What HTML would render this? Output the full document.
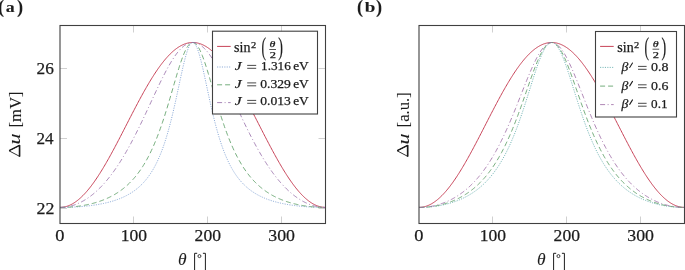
<!DOCTYPE html>
<html><head><meta charset="utf-8"><title>plot</title><style>
html,body{margin:0;padding:0;background:#fff;overflow:hidden;}
svg{display:block;will-change:transform;}
text{font-family:"Liberation Serif",serif;fill:#1c1c1c;stroke:#1c1c1c;stroke-width:0.25px;}
text.ns{stroke-width:0.08px;}
</style></head>
<body><svg width="685" height="270" viewBox="0 0 685 270">
<rect width="685" height="270" fill="#fff"/>
<line x1="133.5" y1="223.5" x2="133.5" y2="216.5" stroke="#d0d0d0" stroke-width="1"/>
<line x1="133.5" y1="25.5" x2="133.5" y2="32.5" stroke="#d0d0d0" stroke-width="1"/>
<line x1="207.5" y1="223.5" x2="207.5" y2="216.5" stroke="#d0d0d0" stroke-width="1"/>
<line x1="207.5" y1="25.5" x2="207.5" y2="32.5" stroke="#d0d0d0" stroke-width="1"/>
<line x1="281.5" y1="223.5" x2="281.5" y2="216.5" stroke="#d0d0d0" stroke-width="1"/>
<line x1="281.5" y1="25.5" x2="281.5" y2="32.5" stroke="#d0d0d0" stroke-width="1"/>
<line x1="60.0" y1="68.5" x2="67.0" y2="68.5" stroke="#d0d0d0" stroke-width="1"/>
<line x1="325.5" y1="68.5" x2="318.5" y2="68.5" stroke="#d0d0d0" stroke-width="1"/>
<line x1="60.0" y1="138.5" x2="67.0" y2="138.5" stroke="#d0d0d0" stroke-width="1"/>
<line x1="325.5" y1="138.5" x2="318.5" y2="138.5" stroke="#d0d0d0" stroke-width="1"/>
<line x1="60.0" y1="208.5" x2="67.0" y2="208.5" stroke="#d0d0d0" stroke-width="1"/>
<line x1="325.5" y1="208.5" x2="318.5" y2="208.5" stroke="#d0d0d0" stroke-width="1"/>
<path d="M60.00,207.40 L60.74,207.39 L61.48,207.35 L62.21,207.29 L62.95,207.20 L63.69,207.09 L64.42,206.95 L65.16,206.79 L65.90,206.60 L66.64,206.38 L67.38,206.15 L68.11,205.89 L68.85,205.60 L69.59,205.29 L70.33,204.95 L71.06,204.59 L71.80,204.21 L72.54,203.80 L73.28,203.36 L74.01,202.91 L74.75,202.43 L75.49,201.92 L76.22,201.40 L76.96,200.85 L77.70,200.27 L78.44,199.68 L79.17,199.06 L79.91,198.41 L80.65,197.75 L81.39,197.06 L82.12,196.35 L82.86,195.62 L83.60,194.87 L84.34,194.10 L85.08,193.30 L85.81,192.49 L86.55,191.65 L87.29,190.80 L88.03,189.92 L88.76,189.03 L89.50,188.11 L90.24,187.18 L90.97,186.22 L91.71,185.25 L92.45,184.26 L93.19,183.25 L93.93,182.22 L94.66,181.18 L95.40,180.12 L96.14,179.04 L96.88,177.95 L97.61,176.84 L98.35,175.71 L99.09,174.57 L99.83,173.41 L100.56,172.24 L101.30,171.06 L102.04,169.86 L102.78,168.64 L103.51,167.41 L104.25,166.18 L104.99,164.92 L105.72,163.66 L106.46,162.38 L107.20,161.09 L107.94,159.79 L108.68,158.49 L109.41,157.17 L110.15,155.84 L110.89,154.50 L111.62,153.15 L112.36,151.79 L113.10,150.43 L113.84,149.06 L114.58,147.68 L115.31,146.29 L116.05,144.90 L116.79,143.50 L117.53,142.09 L118.26,140.68 L119.00,139.27 L119.74,137.85 L120.47,136.42 L121.21,135.00 L121.95,133.57 L122.69,132.14 L123.43,130.70 L124.16,129.27 L124.90,127.83 L125.64,126.39 L126.38,124.95 L127.11,123.51 L127.85,122.07 L128.59,120.63 L129.32,119.20 L130.06,117.76 L130.80,116.33 L131.54,114.90 L132.28,113.48 L133.01,112.05 L133.75,110.63 L134.49,109.22 L135.23,107.81 L135.96,106.40 L136.70,105.00 L137.44,103.61 L138.18,102.22 L138.91,100.84 L139.65,99.47 L140.39,98.11 L141.12,96.75 L141.86,95.40 L142.60,94.06 L143.34,92.73 L144.07,91.41 L144.81,90.11 L145.55,88.81 L146.29,87.52 L147.03,86.24 L147.76,84.98 L148.50,83.73 L149.24,82.49 L149.98,81.26 L150.71,80.04 L151.45,78.84 L152.19,77.66 L152.93,76.49 L153.66,75.33 L154.40,74.19 L155.14,73.06 L155.88,71.95 L156.61,70.86 L157.35,69.78 L158.09,68.72 L158.82,67.68 L159.56,66.65 L160.30,65.64 L161.04,64.65 L161.78,63.68 L162.51,62.72 L163.25,61.79 L163.99,60.87 L164.73,59.98 L165.46,59.10 L166.20,58.25 L166.94,57.41 L167.68,56.60 L168.41,55.80 L169.15,55.03 L169.89,54.28 L170.62,53.55 L171.36,52.84 L172.10,52.15 L172.84,51.49 L173.57,50.84 L174.31,50.22 L175.05,49.63 L175.79,49.05 L176.53,48.50 L177.26,47.98 L178.00,47.47 L178.74,46.99 L179.48,46.54 L180.21,46.10 L180.95,45.69 L181.69,45.31 L182.43,44.95 L183.16,44.61 L183.90,44.30 L184.64,44.01 L185.38,43.75 L186.11,43.52 L186.85,43.30 L187.59,43.11 L188.33,42.95 L189.06,42.81 L189.80,42.70 L190.54,42.61 L191.28,42.55 L192.01,42.51 L192.75,42.50 L193.49,42.51 L194.22,42.55 L194.96,42.61 L195.70,42.70 L196.44,42.81 L197.18,42.95 L197.91,43.11 L198.65,43.30 L199.39,43.52 L200.12,43.75 L200.86,44.01 L201.60,44.30 L202.34,44.61 L203.08,44.95 L203.81,45.31 L204.55,45.69 L205.29,46.10 L206.03,46.54 L206.76,46.99 L207.50,47.47 L208.24,47.98 L208.98,48.50 L209.71,49.05 L210.45,49.63 L211.19,50.22 L211.93,50.84 L212.66,51.49 L213.40,52.15 L214.14,52.84 L214.88,53.55 L215.61,54.28 L216.35,55.03 L217.09,55.80 L217.83,56.60 L218.56,57.41 L219.30,58.25 L220.04,59.10 L220.78,59.98 L221.51,60.87 L222.25,61.79 L222.99,62.72 L223.73,63.68 L224.46,64.65 L225.20,65.64 L225.94,66.65 L226.68,67.68 L227.41,68.72 L228.15,69.78 L228.89,70.86 L229.62,71.95 L230.36,73.06 L231.10,74.19 L231.84,75.33 L232.58,76.49 L233.31,77.66 L234.05,78.84 L234.79,80.04 L235.53,81.26 L236.26,82.49 L237.00,83.72 L237.74,84.98 L238.48,86.24 L239.21,87.52 L239.95,88.81 L240.69,90.11 L241.43,91.41 L242.16,92.73 L242.90,94.06 L243.64,95.40 L244.38,96.75 L245.11,98.11 L245.85,99.47 L246.59,100.84 L247.33,102.22 L248.06,103.61 L248.80,105.00 L249.54,106.40 L250.28,107.81 L251.01,109.22 L251.75,110.63 L252.49,112.05 L253.23,113.48 L253.96,114.90 L254.70,116.33 L255.44,117.76 L256.18,119.20 L256.91,120.63 L257.65,122.07 L258.39,123.51 L259.12,124.95 L259.86,126.39 L260.60,127.83 L261.34,129.27 L262.08,130.70 L262.81,132.14 L263.55,133.57 L264.29,135.00 L265.02,136.42 L265.76,137.85 L266.50,139.27 L267.24,140.68 L267.98,142.09 L268.71,143.50 L269.45,144.90 L270.19,146.29 L270.93,147.68 L271.66,149.06 L272.40,150.43 L273.14,151.79 L273.88,153.15 L274.61,154.50 L275.35,155.84 L276.09,157.17 L276.83,158.49 L277.56,159.79 L278.30,161.09 L279.04,162.38 L279.77,163.66 L280.51,164.92 L281.25,166.18 L281.99,167.41 L282.73,168.64 L283.46,169.86 L284.20,171.06 L284.94,172.24 L285.68,173.41 L286.41,174.57 L287.15,175.71 L287.89,176.84 L288.62,177.95 L289.36,179.04 L290.10,180.12 L290.84,181.18 L291.58,182.22 L292.31,183.25 L293.05,184.26 L293.79,185.25 L294.52,186.22 L295.26,187.18 L296.00,188.11 L296.74,189.03 L297.48,189.92 L298.21,190.80 L298.95,191.65 L299.69,192.49 L300.43,193.30 L301.16,194.10 L301.90,194.87 L302.64,195.62 L303.38,196.35 L304.11,197.06 L304.85,197.75 L305.59,198.41 L306.33,199.06 L307.06,199.68 L307.80,200.27 L308.54,200.85 L309.27,201.40 L310.01,201.92 L310.75,202.43 L311.49,202.91 L312.23,203.36 L312.96,203.80 L313.70,204.21 L314.44,204.59 L315.18,204.95 L315.91,205.29 L316.65,205.60 L317.39,205.89 L318.12,206.15 L318.86,206.38 L319.60,206.60 L320.34,206.79 L321.07,206.95 L321.81,207.09 L322.55,207.20 L323.29,207.29 L324.03,207.35 L324.76,207.39 L325.50,207.40" fill="none" stroke="#c84257" stroke-width="1.0"/>
<path d="M60.00,207.40 L60.74,207.40 L61.48,207.40 L62.21,207.39 L62.95,207.38 L63.69,207.38 L64.42,207.37 L65.16,207.35 L65.90,207.34 L66.64,207.32 L67.38,207.30 L68.11,207.28 L68.85,207.26 L69.59,207.24 L70.33,207.21 L71.06,207.18 L71.80,207.15 L72.54,207.12 L73.28,207.08 L74.01,207.05 L74.75,207.01 L75.49,206.97 L76.22,206.92 L76.96,206.88 L77.70,206.83 L78.44,206.78 L79.17,206.73 L79.91,206.67 L80.65,206.62 L81.39,206.56 L82.12,206.49 L82.86,206.43 L83.60,206.36 L84.34,206.29 L85.08,206.22 L85.81,206.15 L86.55,206.07 L87.29,205.99 L88.03,205.91 L88.76,205.82 L89.50,205.74 L90.24,205.65 L90.97,205.55 L91.71,205.46 L92.45,205.36 L93.19,205.25 L93.93,205.15 L94.66,205.04 L95.40,204.92 L96.14,204.81 L96.88,204.69 L97.61,204.56 L98.35,204.44 L99.09,204.31 L99.83,204.17 L100.56,204.03 L101.30,203.89 L102.04,203.74 L102.78,203.59 L103.51,203.44 L104.25,203.28 L104.99,203.11 L105.72,202.94 L106.46,202.77 L107.20,202.59 L107.94,202.41 L108.68,202.22 L109.41,202.02 L110.15,201.82 L110.89,201.62 L111.62,201.41 L112.36,201.19 L113.10,200.97 L113.84,200.74 L114.58,200.50 L115.31,200.26 L116.05,200.00 L116.79,199.75 L117.53,199.48 L118.26,199.21 L119.00,198.93 L119.74,198.64 L120.47,198.34 L121.21,198.04 L121.95,197.72 L122.69,197.40 L123.43,197.06 L124.16,196.72 L124.90,196.36 L125.64,196.00 L126.38,195.62 L127.11,195.23 L127.85,194.83 L128.59,194.42 L129.32,194.00 L130.06,193.56 L130.80,193.11 L131.54,192.64 L132.28,192.16 L133.01,191.67 L133.75,191.16 L134.49,190.63 L135.23,190.09 L135.96,189.53 L136.70,188.95 L137.44,188.35 L138.18,187.73 L138.91,187.09 L139.65,186.43 L140.39,185.74 L141.12,185.04 L141.86,184.31 L142.60,183.55 L143.34,182.77 L144.07,181.96 L144.81,181.13 L145.55,180.26 L146.29,179.36 L147.03,178.44 L147.76,177.48 L148.50,176.48 L149.24,175.45 L149.98,174.38 L150.71,173.28 L151.45,172.13 L152.19,170.94 L152.93,169.71 L153.66,168.43 L154.40,167.11 L155.14,165.73 L155.88,164.31 L156.61,162.83 L157.35,161.30 L158.09,159.71 L158.82,158.06 L159.56,156.35 L160.30,154.58 L161.04,152.75 L161.78,150.84 L162.51,148.87 L163.25,146.82 L163.99,144.71 L164.73,142.51 L165.46,140.24 L166.20,137.89 L166.94,135.47 L167.68,132.96 L168.41,130.37 L169.15,127.70 L169.89,124.94 L170.62,122.11 L171.36,119.19 L172.10,116.20 L172.84,113.13 L173.57,109.99 L174.31,106.79 L175.05,103.52 L175.79,100.19 L176.53,96.82 L177.26,93.41 L178.00,89.97 L178.74,86.51 L179.48,83.05 L180.21,79.61 L180.95,76.19 L181.69,72.82 L182.43,69.52 L183.16,66.31 L183.90,63.21 L184.64,60.24 L185.38,57.42 L186.11,54.79 L186.85,52.36 L187.59,50.15 L188.33,48.18 L189.06,46.49 L189.80,45.07 L190.54,43.96 L191.28,43.15 L192.01,42.66 L192.75,42.50 L193.49,42.66 L194.22,43.15 L194.96,43.96 L195.70,45.07 L196.44,46.49 L197.18,48.18 L197.91,50.15 L198.65,52.36 L199.39,54.79 L200.12,57.42 L200.86,60.24 L201.60,63.21 L202.34,66.31 L203.08,69.52 L203.81,72.82 L204.55,76.19 L205.29,79.61 L206.03,83.05 L206.76,86.51 L207.50,89.97 L208.24,93.41 L208.98,96.82 L209.71,100.19 L210.45,103.52 L211.19,106.79 L211.93,109.99 L212.66,113.13 L213.40,116.20 L214.14,119.19 L214.88,122.11 L215.61,124.94 L216.35,127.70 L217.09,130.37 L217.83,132.96 L218.56,135.47 L219.30,137.89 L220.04,140.24 L220.78,142.51 L221.51,144.71 L222.25,146.82 L222.99,148.87 L223.73,150.84 L224.46,152.75 L225.20,154.58 L225.94,156.35 L226.68,158.06 L227.41,159.71 L228.15,161.30 L228.89,162.83 L229.62,164.31 L230.36,165.73 L231.10,167.11 L231.84,168.43 L232.58,169.71 L233.31,170.94 L234.05,172.13 L234.79,173.28 L235.53,174.38 L236.26,175.45 L237.00,176.48 L237.74,177.48 L238.48,178.44 L239.21,179.36 L239.95,180.26 L240.69,181.13 L241.43,181.96 L242.16,182.77 L242.90,183.55 L243.64,184.31 L244.38,185.04 L245.11,185.74 L245.85,186.43 L246.59,187.09 L247.33,187.73 L248.06,188.35 L248.80,188.95 L249.54,189.53 L250.28,190.09 L251.01,190.63 L251.75,191.16 L252.49,191.67 L253.23,192.16 L253.96,192.64 L254.70,193.11 L255.44,193.56 L256.18,194.00 L256.91,194.42 L257.65,194.83 L258.39,195.23 L259.12,195.62 L259.86,196.00 L260.60,196.36 L261.34,196.72 L262.08,197.06 L262.81,197.40 L263.55,197.72 L264.29,198.04 L265.02,198.34 L265.76,198.64 L266.50,198.93 L267.24,199.21 L267.98,199.48 L268.71,199.75 L269.45,200.00 L270.19,200.26 L270.93,200.50 L271.66,200.74 L272.40,200.97 L273.14,201.19 L273.88,201.41 L274.61,201.62 L275.35,201.82 L276.09,202.02 L276.83,202.22 L277.56,202.41 L278.30,202.59 L279.04,202.77 L279.77,202.94 L280.51,203.11 L281.25,203.28 L281.99,203.44 L282.73,203.59 L283.46,203.74 L284.20,203.89 L284.94,204.03 L285.68,204.17 L286.41,204.31 L287.15,204.44 L287.89,204.56 L288.62,204.69 L289.36,204.81 L290.10,204.92 L290.84,205.04 L291.58,205.15 L292.31,205.25 L293.05,205.36 L293.79,205.46 L294.52,205.55 L295.26,205.65 L296.00,205.74 L296.74,205.82 L297.48,205.91 L298.21,205.99 L298.95,206.07 L299.69,206.15 L300.43,206.22 L301.16,206.29 L301.90,206.36 L302.64,206.43 L303.38,206.49 L304.11,206.56 L304.85,206.62 L305.59,206.67 L306.33,206.73 L307.06,206.78 L307.80,206.83 L308.54,206.88 L309.27,206.92 L310.01,206.97 L310.75,207.01 L311.49,207.05 L312.23,207.08 L312.96,207.12 L313.70,207.15 L314.44,207.18 L315.18,207.21 L315.91,207.24 L316.65,207.26 L317.39,207.28 L318.12,207.30 L318.86,207.32 L319.60,207.34 L320.34,207.35 L321.07,207.37 L321.81,207.38 L322.55,207.38 L323.29,207.39 L324.03,207.40 L324.76,207.40 L325.50,207.40" fill="none" stroke="#789cd0" stroke-width="0.85" stroke-dasharray="1.1 1.3"/>
<path d="M60.00,207.40 L60.74,207.40 L61.48,207.39 L62.21,207.38 L62.95,207.37 L63.69,207.35 L64.42,207.33 L65.16,207.31 L65.90,207.28 L66.64,207.25 L67.38,207.21 L68.11,207.17 L68.85,207.13 L69.59,207.08 L70.33,207.03 L71.06,206.97 L71.80,206.92 L72.54,206.85 L73.28,206.78 L74.01,206.71 L74.75,206.64 L75.49,206.56 L76.22,206.48 L76.96,206.39 L77.70,206.30 L78.44,206.20 L79.17,206.10 L79.91,205.99 L80.65,205.88 L81.39,205.77 L82.12,205.65 L82.86,205.53 L83.60,205.40 L84.34,205.27 L85.08,205.13 L85.81,204.99 L86.55,204.84 L87.29,204.69 L88.03,204.53 L88.76,204.37 L89.50,204.20 L90.24,204.03 L90.97,203.85 L91.71,203.67 L92.45,203.48 L93.19,203.28 L93.93,203.08 L94.66,202.87 L95.40,202.66 L96.14,202.44 L96.88,202.22 L97.61,201.98 L98.35,201.75 L99.09,201.50 L99.83,201.25 L100.56,200.99 L101.30,200.72 L102.04,200.45 L102.78,200.17 L103.51,199.88 L104.25,199.58 L104.99,199.28 L105.72,198.97 L106.46,198.65 L107.20,198.32 L107.94,197.98 L108.68,197.64 L109.41,197.28 L110.15,196.91 L110.89,196.54 L111.62,196.16 L112.36,195.76 L113.10,195.36 L113.84,194.94 L114.58,194.52 L115.31,194.08 L116.05,193.63 L116.79,193.17 L117.53,192.70 L118.26,192.22 L119.00,191.72 L119.74,191.21 L120.47,190.69 L121.21,190.15 L121.95,189.60 L122.69,189.04 L123.43,188.46 L124.16,187.86 L124.90,187.25 L125.64,186.63 L126.38,185.98 L127.11,185.33 L127.85,184.65 L128.59,183.96 L129.32,183.24 L130.06,182.51 L130.80,181.76 L131.54,180.99 L132.28,180.20 L133.01,179.39 L133.75,178.56 L134.49,177.70 L135.23,176.83 L135.96,175.93 L136.70,175.00 L137.44,174.05 L138.18,173.08 L138.91,172.08 L139.65,171.05 L140.39,170.00 L141.12,168.92 L141.86,167.81 L142.60,166.67 L143.34,165.50 L144.07,164.30 L144.81,163.06 L145.55,161.80 L146.29,160.50 L147.03,159.17 L147.76,157.80 L148.50,156.40 L149.24,154.96 L149.98,153.49 L150.71,151.97 L151.45,150.42 L152.19,148.83 L152.93,147.20 L153.66,145.54 L154.40,143.83 L155.14,142.07 L155.88,140.28 L156.61,138.45 L157.35,136.57 L158.09,134.65 L158.82,132.69 L159.56,130.69 L160.30,128.64 L161.04,126.55 L161.78,124.42 L162.51,122.25 L163.25,120.04 L163.99,117.79 L164.73,115.50 L165.46,113.18 L166.20,110.82 L166.94,108.42 L167.68,106.00 L168.41,103.55 L169.15,101.07 L169.89,98.58 L170.62,96.06 L171.36,93.53 L172.10,90.99 L172.84,88.44 L173.57,85.89 L174.31,83.35 L175.05,80.82 L175.79,78.30 L176.53,75.81 L177.26,73.35 L178.00,70.93 L178.74,68.55 L179.48,66.23 L180.21,63.96 L180.95,61.77 L181.69,59.66 L182.43,57.63 L183.16,55.69 L183.90,53.86 L184.64,52.14 L185.38,50.54 L186.11,49.07 L186.85,47.73 L187.59,46.53 L188.33,45.48 L189.06,44.58 L189.80,43.84 L190.54,43.25 L191.28,42.84 L192.01,42.58 L192.75,42.50 L193.49,42.58 L194.22,42.84 L194.96,43.25 L195.70,43.84 L196.44,44.58 L197.18,45.48 L197.91,46.53 L198.65,47.73 L199.39,49.07 L200.12,50.54 L200.86,52.14 L201.60,53.86 L202.34,55.69 L203.08,57.63 L203.81,59.66 L204.55,61.77 L205.29,63.96 L206.03,66.23 L206.76,68.55 L207.50,70.93 L208.24,73.35 L208.98,75.81 L209.71,78.30 L210.45,80.82 L211.19,83.35 L211.93,85.89 L212.66,88.44 L213.40,90.99 L214.14,93.53 L214.88,96.06 L215.61,98.58 L216.35,101.07 L217.09,103.55 L217.83,106.00 L218.56,108.42 L219.30,110.82 L220.04,113.18 L220.78,115.50 L221.51,117.79 L222.25,120.04 L222.99,122.25 L223.73,124.42 L224.46,126.55 L225.20,128.64 L225.94,130.69 L226.68,132.69 L227.41,134.65 L228.15,136.57 L228.89,138.45 L229.62,140.28 L230.36,142.07 L231.10,143.83 L231.84,145.54 L232.58,147.20 L233.31,148.83 L234.05,150.42 L234.79,151.97 L235.53,153.49 L236.26,154.96 L237.00,156.40 L237.74,157.80 L238.48,159.17 L239.21,160.50 L239.95,161.80 L240.69,163.06 L241.43,164.30 L242.16,165.50 L242.90,166.67 L243.64,167.81 L244.38,168.92 L245.11,170.00 L245.85,171.05 L246.59,172.08 L247.33,173.08 L248.06,174.05 L248.80,175.00 L249.54,175.93 L250.28,176.83 L251.01,177.70 L251.75,178.56 L252.49,179.39 L253.23,180.20 L253.96,180.99 L254.70,181.76 L255.44,182.51 L256.18,183.24 L256.91,183.96 L257.65,184.65 L258.39,185.33 L259.12,185.98 L259.86,186.63 L260.60,187.25 L261.34,187.86 L262.08,188.46 L262.81,189.04 L263.55,189.60 L264.29,190.15 L265.02,190.69 L265.76,191.21 L266.50,191.72 L267.24,192.22 L267.98,192.70 L268.71,193.17 L269.45,193.63 L270.19,194.08 L270.93,194.52 L271.66,194.94 L272.40,195.36 L273.14,195.76 L273.88,196.16 L274.61,196.54 L275.35,196.91 L276.09,197.28 L276.83,197.64 L277.56,197.98 L278.30,198.32 L279.04,198.65 L279.77,198.97 L280.51,199.28 L281.25,199.58 L281.99,199.88 L282.73,200.17 L283.46,200.45 L284.20,200.72 L284.94,200.99 L285.68,201.25 L286.41,201.50 L287.15,201.75 L287.89,201.98 L288.62,202.22 L289.36,202.44 L290.10,202.66 L290.84,202.87 L291.58,203.08 L292.31,203.28 L293.05,203.48 L293.79,203.67 L294.52,203.85 L295.26,204.03 L296.00,204.20 L296.74,204.37 L297.48,204.53 L298.21,204.69 L298.95,204.84 L299.69,204.99 L300.43,205.13 L301.16,205.27 L301.90,205.40 L302.64,205.53 L303.38,205.65 L304.11,205.77 L304.85,205.88 L305.59,205.99 L306.33,206.10 L307.06,206.20 L307.80,206.30 L308.54,206.39 L309.27,206.48 L310.01,206.56 L310.75,206.64 L311.49,206.71 L312.23,206.78 L312.96,206.85 L313.70,206.92 L314.44,206.97 L315.18,207.03 L315.91,207.08 L316.65,207.13 L317.39,207.17 L318.12,207.21 L318.86,207.25 L319.60,207.28 L320.34,207.31 L321.07,207.33 L321.81,207.35 L322.55,207.37 L323.29,207.38 L324.03,207.39 L324.76,207.40 L325.50,207.40" fill="none" stroke="#5c9e66" stroke-width="0.85" stroke-dasharray="5 3"/>
<path d="M60.00,207.40 L60.74,207.39 L61.48,207.37 L62.21,207.34 L62.95,207.30 L63.69,207.24 L64.42,207.17 L65.16,207.08 L65.90,206.99 L66.64,206.88 L67.38,206.76 L68.11,206.62 L68.85,206.47 L69.59,206.31 L70.33,206.13 L71.06,205.95 L71.80,205.75 L72.54,205.53 L73.28,205.31 L74.01,205.07 L74.75,204.81 L75.49,204.55 L76.22,204.27 L76.96,203.97 L77.70,203.67 L78.44,203.35 L79.17,203.01 L79.91,202.67 L80.65,202.31 L81.39,201.93 L82.12,201.54 L82.86,201.14 L83.60,200.73 L84.34,200.30 L85.08,199.86 L85.81,199.40 L86.55,198.93 L87.29,198.45 L88.03,197.95 L88.76,197.44 L89.50,196.91 L90.24,196.37 L90.97,195.81 L91.71,195.25 L92.45,194.66 L93.19,194.06 L93.93,193.45 L94.66,192.83 L95.40,192.18 L96.14,191.53 L96.88,190.86 L97.61,190.17 L98.35,189.47 L99.09,188.76 L99.83,188.03 L100.56,187.28 L101.30,186.52 L102.04,185.74 L102.78,184.95 L103.51,184.15 L104.25,183.33 L104.99,182.49 L105.72,181.64 L106.46,180.77 L107.20,179.89 L107.94,178.99 L108.68,178.08 L109.41,177.15 L110.15,176.20 L110.89,175.24 L111.62,174.27 L112.36,173.28 L113.10,172.27 L113.84,171.25 L114.58,170.21 L115.31,169.16 L116.05,168.09 L116.79,167.00 L117.53,165.90 L118.26,164.79 L119.00,163.65 L119.74,162.51 L120.47,161.35 L121.21,160.17 L121.95,158.97 L122.69,157.77 L123.43,156.54 L124.16,155.31 L124.90,154.05 L125.64,152.78 L126.38,151.50 L127.11,150.20 L127.85,148.89 L128.59,147.57 L129.32,146.23 L130.06,144.87 L130.80,143.51 L131.54,142.13 L132.28,140.73 L133.01,139.33 L133.75,137.91 L134.49,136.48 L135.23,135.03 L135.96,133.58 L136.70,132.11 L137.44,130.64 L138.18,129.15 L138.91,127.65 L139.65,126.14 L140.39,124.62 L141.12,123.10 L141.86,121.56 L142.60,120.02 L143.34,118.47 L144.07,116.91 L144.81,115.35 L145.55,113.78 L146.29,112.21 L147.03,110.63 L147.76,109.05 L148.50,107.46 L149.24,105.87 L149.98,104.28 L150.71,102.69 L151.45,101.10 L152.19,99.51 L152.93,97.92 L153.66,96.34 L154.40,94.75 L155.14,93.17 L155.88,91.60 L156.61,90.03 L157.35,88.47 L158.09,86.92 L158.82,85.37 L159.56,83.84 L160.30,82.32 L161.04,80.80 L161.78,79.31 L162.51,77.82 L163.25,76.35 L163.99,74.90 L164.73,73.47 L165.46,72.05 L166.20,70.65 L166.94,69.28 L167.68,67.92 L168.41,66.59 L169.15,65.29 L169.89,64.01 L170.62,62.75 L171.36,61.53 L172.10,60.33 L172.84,59.16 L173.57,58.03 L174.31,56.92 L175.05,55.85 L175.79,54.82 L176.53,53.82 L177.26,52.85 L178.00,51.93 L178.74,51.04 L179.48,50.19 L180.21,49.38 L180.95,48.62 L181.69,47.89 L182.43,47.21 L183.16,46.57 L183.90,45.98 L184.64,45.43 L185.38,44.93 L186.11,44.47 L186.85,44.06 L187.59,43.69 L188.33,43.38 L189.06,43.11 L189.80,42.89 L190.54,42.72 L191.28,42.60 L192.01,42.52 L192.75,42.50 L193.49,42.52 L194.22,42.60 L194.96,42.72 L195.70,42.89 L196.44,43.11 L197.18,43.38 L197.91,43.69 L198.65,44.06 L199.39,44.47 L200.12,44.93 L200.86,45.43 L201.60,45.98 L202.34,46.57 L203.08,47.21 L203.81,47.89 L204.55,48.62 L205.29,49.38 L206.03,50.19 L206.76,51.04 L207.50,51.93 L208.24,52.85 L208.98,53.82 L209.71,54.82 L210.45,55.85 L211.19,56.92 L211.93,58.03 L212.66,59.16 L213.40,60.33 L214.14,61.53 L214.88,62.75 L215.61,64.01 L216.35,65.29 L217.09,66.59 L217.83,67.92 L218.56,69.28 L219.30,70.65 L220.04,72.05 L220.78,73.47 L221.51,74.90 L222.25,76.35 L222.99,77.82 L223.73,79.31 L224.46,80.80 L225.20,82.32 L225.94,83.84 L226.68,85.37 L227.41,86.92 L228.15,88.47 L228.89,90.03 L229.62,91.60 L230.36,93.17 L231.10,94.75 L231.84,96.34 L232.58,97.92 L233.31,99.51 L234.05,101.10 L234.79,102.69 L235.53,104.28 L236.26,105.87 L237.00,107.46 L237.74,109.05 L238.48,110.63 L239.21,112.21 L239.95,113.78 L240.69,115.35 L241.43,116.91 L242.16,118.47 L242.90,120.02 L243.64,121.56 L244.38,123.10 L245.11,124.62 L245.85,126.14 L246.59,127.65 L247.33,129.15 L248.06,130.64 L248.80,132.11 L249.54,133.58 L250.28,135.03 L251.01,136.48 L251.75,137.91 L252.49,139.33 L253.23,140.73 L253.96,142.13 L254.70,143.51 L255.44,144.87 L256.18,146.23 L256.91,147.57 L257.65,148.89 L258.39,150.20 L259.12,151.50 L259.86,152.78 L260.60,154.05 L261.34,155.31 L262.08,156.54 L262.81,157.77 L263.55,158.97 L264.29,160.17 L265.02,161.35 L265.76,162.51 L266.50,163.65 L267.24,164.79 L267.98,165.90 L268.71,167.00 L269.45,168.09 L270.19,169.16 L270.93,170.21 L271.66,171.25 L272.40,172.27 L273.14,173.28 L273.88,174.27 L274.61,175.24 L275.35,176.20 L276.09,177.15 L276.83,178.08 L277.56,178.99 L278.30,179.89 L279.04,180.77 L279.77,181.64 L280.51,182.49 L281.25,183.33 L281.99,184.15 L282.73,184.95 L283.46,185.74 L284.20,186.52 L284.94,187.28 L285.68,188.03 L286.41,188.76 L287.15,189.47 L287.89,190.17 L288.62,190.86 L289.36,191.53 L290.10,192.18 L290.84,192.83 L291.58,193.45 L292.31,194.06 L293.05,194.66 L293.79,195.25 L294.52,195.81 L295.26,196.37 L296.00,196.91 L296.74,197.44 L297.48,197.95 L298.21,198.45 L298.95,198.93 L299.69,199.40 L300.43,199.86 L301.16,200.30 L301.90,200.73 L302.64,201.14 L303.38,201.54 L304.11,201.93 L304.85,202.31 L305.59,202.67 L306.33,203.01 L307.06,203.35 L307.80,203.67 L308.54,203.97 L309.27,204.27 L310.01,204.55 L310.75,204.81 L311.49,205.07 L312.23,205.31 L312.96,205.53 L313.70,205.75 L314.44,205.95 L315.18,206.13 L315.91,206.31 L316.65,206.47 L317.39,206.62 L318.12,206.76 L318.86,206.88 L319.60,206.99 L320.34,207.08 L321.07,207.17 L321.81,207.24 L322.55,207.30 L323.29,207.34 L324.03,207.37 L324.76,207.39 L325.50,207.40" fill="none" stroke="#9870aa" stroke-width="0.85" stroke-dasharray="5 2.5 1 2.5"/>
<rect x="60.0" y="25.5" width="265.5" height="198.0" fill="none" stroke="#404040" stroke-width="1.1"/>
<line x1="492.5" y1="223.5" x2="492.5" y2="216.5" stroke="#d0d0d0" stroke-width="1"/>
<line x1="492.5" y1="25.5" x2="492.5" y2="32.5" stroke="#d0d0d0" stroke-width="1"/>
<line x1="566.5" y1="223.5" x2="566.5" y2="216.5" stroke="#d0d0d0" stroke-width="1"/>
<line x1="566.5" y1="25.5" x2="566.5" y2="32.5" stroke="#d0d0d0" stroke-width="1"/>
<line x1="640.5" y1="223.5" x2="640.5" y2="216.5" stroke="#d0d0d0" stroke-width="1"/>
<line x1="640.5" y1="25.5" x2="640.5" y2="32.5" stroke="#d0d0d0" stroke-width="1"/>
<path d="M419.00,207.40 L419.74,207.39 L420.48,207.35 L421.21,207.29 L421.95,207.20 L422.69,207.09 L423.43,206.95 L424.16,206.79 L424.90,206.60 L425.64,206.38 L426.38,206.15 L427.11,205.89 L427.85,205.60 L428.59,205.29 L429.32,204.95 L430.06,204.59 L430.80,204.21 L431.54,203.80 L432.27,203.36 L433.01,202.91 L433.75,202.43 L434.49,201.92 L435.23,201.40 L435.96,200.85 L436.70,200.27 L437.44,199.68 L438.18,199.06 L438.91,198.41 L439.65,197.75 L440.39,197.06 L441.12,196.35 L441.86,195.62 L442.60,194.87 L443.34,194.10 L444.07,193.30 L444.81,192.49 L445.55,191.65 L446.29,190.80 L447.02,189.92 L447.76,189.03 L448.50,188.11 L449.24,187.18 L449.98,186.22 L450.71,185.25 L451.45,184.26 L452.19,183.25 L452.93,182.22 L453.66,181.18 L454.40,180.12 L455.14,179.04 L455.88,177.95 L456.61,176.84 L457.35,175.71 L458.09,174.57 L458.82,173.41 L459.56,172.24 L460.30,171.06 L461.04,169.86 L461.77,168.64 L462.51,167.41 L463.25,166.18 L463.99,164.92 L464.73,163.66 L465.46,162.38 L466.20,161.09 L466.94,159.79 L467.68,158.49 L468.41,157.17 L469.15,155.84 L469.89,154.50 L470.62,153.15 L471.36,151.79 L472.10,150.43 L472.84,149.06 L473.57,147.68 L474.31,146.29 L475.05,144.90 L475.79,143.50 L476.52,142.09 L477.26,140.68 L478.00,139.27 L478.74,137.85 L479.48,136.42 L480.21,135.00 L480.95,133.57 L481.69,132.14 L482.43,130.70 L483.16,129.27 L483.90,127.83 L484.64,126.39 L485.38,124.95 L486.11,123.51 L486.85,122.07 L487.59,120.63 L488.32,119.20 L489.06,117.76 L489.80,116.33 L490.54,114.90 L491.27,113.48 L492.01,112.05 L492.75,110.63 L493.49,109.22 L494.23,107.81 L494.96,106.40 L495.70,105.00 L496.44,103.61 L497.18,102.22 L497.91,100.84 L498.65,99.47 L499.39,98.11 L500.12,96.75 L500.86,95.40 L501.60,94.06 L502.34,92.73 L503.07,91.41 L503.81,90.11 L504.55,88.81 L505.29,87.52 L506.02,86.24 L506.76,84.98 L507.50,83.73 L508.24,82.49 L508.98,81.26 L509.71,80.04 L510.45,78.84 L511.19,77.66 L511.93,76.49 L512.66,75.33 L513.40,74.19 L514.14,73.06 L514.88,71.95 L515.61,70.86 L516.35,69.78 L517.09,68.72 L517.83,67.68 L518.56,66.65 L519.30,65.64 L520.04,64.65 L520.77,63.68 L521.51,62.72 L522.25,61.79 L522.99,60.87 L523.73,59.98 L524.46,59.10 L525.20,58.25 L525.94,57.41 L526.67,56.60 L527.41,55.80 L528.15,55.03 L528.89,54.28 L529.62,53.55 L530.36,52.84 L531.10,52.15 L531.84,51.49 L532.58,50.84 L533.31,50.22 L534.05,49.63 L534.79,49.05 L535.52,48.50 L536.26,47.98 L537.00,47.47 L537.74,46.99 L538.48,46.54 L539.21,46.10 L539.95,45.69 L540.69,45.31 L541.42,44.95 L542.16,44.61 L542.90,44.30 L543.64,44.01 L544.38,43.75 L545.11,43.52 L545.85,43.30 L546.59,43.11 L547.33,42.95 L548.06,42.81 L548.80,42.70 L549.54,42.61 L550.27,42.55 L551.01,42.51 L551.75,42.50 L552.49,42.51 L553.23,42.55 L553.96,42.61 L554.70,42.70 L555.44,42.81 L556.17,42.95 L556.91,43.11 L557.65,43.30 L558.39,43.52 L559.12,43.75 L559.86,44.01 L560.60,44.30 L561.34,44.61 L562.08,44.95 L562.81,45.31 L563.55,45.69 L564.29,46.10 L565.02,46.54 L565.76,46.99 L566.50,47.47 L567.24,47.98 L567.98,48.50 L568.71,49.05 L569.45,49.63 L570.19,50.22 L570.92,50.84 L571.66,51.49 L572.40,52.15 L573.14,52.84 L573.88,53.55 L574.61,54.28 L575.35,55.03 L576.09,55.80 L576.83,56.60 L577.56,57.41 L578.30,58.25 L579.04,59.10 L579.77,59.98 L580.51,60.87 L581.25,61.79 L581.99,62.72 L582.73,63.68 L583.46,64.65 L584.20,65.64 L584.94,66.65 L585.67,67.68 L586.41,68.72 L587.15,69.78 L587.89,70.86 L588.62,71.95 L589.36,73.06 L590.10,74.19 L590.84,75.33 L591.58,76.49 L592.31,77.66 L593.05,78.84 L593.79,80.04 L594.52,81.26 L595.26,82.49 L596.00,83.72 L596.74,84.98 L597.48,86.24 L598.21,87.52 L598.95,88.81 L599.69,90.11 L600.42,91.41 L601.16,92.73 L601.90,94.06 L602.64,95.40 L603.38,96.75 L604.11,98.11 L604.85,99.47 L605.59,100.84 L606.33,102.22 L607.06,103.61 L607.80,105.00 L608.54,106.40 L609.27,107.81 L610.01,109.22 L610.75,110.63 L611.49,112.05 L612.23,113.48 L612.96,114.90 L613.70,116.33 L614.44,117.76 L615.17,119.20 L615.91,120.63 L616.65,122.07 L617.39,123.51 L618.12,124.95 L618.86,126.39 L619.60,127.83 L620.34,129.27 L621.08,130.70 L621.81,132.14 L622.55,133.57 L623.29,135.00 L624.02,136.42 L624.76,137.85 L625.50,139.27 L626.24,140.68 L626.98,142.09 L627.71,143.50 L628.45,144.90 L629.19,146.29 L629.92,147.68 L630.66,149.06 L631.40,150.43 L632.14,151.79 L632.88,153.15 L633.61,154.50 L634.35,155.84 L635.09,157.17 L635.83,158.49 L636.56,159.79 L637.30,161.09 L638.04,162.38 L638.77,163.66 L639.51,164.92 L640.25,166.18 L640.99,167.41 L641.73,168.64 L642.46,169.86 L643.20,171.06 L643.94,172.24 L644.67,173.41 L645.41,174.57 L646.15,175.71 L646.89,176.84 L647.62,177.95 L648.36,179.04 L649.10,180.12 L649.84,181.18 L650.58,182.22 L651.31,183.25 L652.05,184.26 L652.79,185.25 L653.52,186.22 L654.26,187.18 L655.00,188.11 L655.74,189.03 L656.48,189.92 L657.21,190.80 L657.95,191.65 L658.69,192.49 L659.42,193.30 L660.16,194.10 L660.90,194.87 L661.64,195.62 L662.38,196.35 L663.11,197.06 L663.85,197.75 L664.59,198.41 L665.33,199.06 L666.06,199.68 L666.80,200.27 L667.54,200.85 L668.27,201.40 L669.01,201.92 L669.75,202.43 L670.49,202.91 L671.23,203.36 L671.96,203.80 L672.70,204.21 L673.44,204.59 L674.17,204.95 L674.91,205.29 L675.65,205.60 L676.39,205.89 L677.12,206.15 L677.86,206.38 L678.60,206.60 L679.34,206.79 L680.08,206.95 L680.81,207.09 L681.55,207.20 L682.29,207.29 L683.03,207.35 L683.76,207.39 L684.50,207.40" fill="none" stroke="#c84257" stroke-width="1.0"/>
<path d="M419.00,207.40 L419.74,207.40 L420.48,207.39 L421.21,207.38 L421.95,207.36 L422.69,207.34 L423.43,207.32 L424.16,207.29 L424.90,207.26 L425.64,207.22 L426.38,207.17 L427.11,207.13 L427.85,207.08 L428.59,207.02 L429.32,206.96 L430.06,206.89 L430.80,206.82 L431.54,206.74 L432.27,206.66 L433.01,206.58 L433.75,206.49 L434.49,206.39 L435.23,206.29 L435.96,206.19 L436.70,206.08 L437.44,205.97 L438.18,205.85 L438.91,205.72 L439.65,205.59 L440.39,205.45 L441.12,205.31 L441.86,205.17 L442.60,205.01 L443.34,204.86 L444.07,204.69 L444.81,204.52 L445.55,204.35 L446.29,204.17 L447.02,203.98 L447.76,203.79 L448.50,203.59 L449.24,203.38 L449.98,203.17 L450.71,202.95 L451.45,202.73 L452.19,202.50 L452.93,202.26 L453.66,202.01 L454.40,201.76 L455.14,201.50 L455.88,201.24 L456.61,200.96 L457.35,200.68 L458.09,200.39 L458.82,200.09 L459.56,199.79 L460.30,199.48 L461.04,199.15 L461.77,198.82 L462.51,198.48 L463.25,198.14 L463.99,197.78 L464.73,197.41 L465.46,197.04 L466.20,196.65 L466.94,196.26 L467.68,195.85 L468.41,195.44 L469.15,195.01 L469.89,194.57 L470.62,194.12 L471.36,193.67 L472.10,193.20 L472.84,192.71 L473.57,192.22 L474.31,191.71 L475.05,191.19 L475.79,190.66 L476.52,190.11 L477.26,189.56 L478.00,188.98 L478.74,188.40 L479.48,187.79 L480.21,187.18 L480.95,186.55 L481.69,185.90 L482.43,185.24 L483.16,184.56 L483.90,183.86 L484.64,183.15 L485.38,182.42 L486.11,181.67 L486.85,180.90 L487.59,180.11 L488.32,179.31 L489.06,178.48 L489.80,177.64 L490.54,176.77 L491.27,175.88 L492.01,174.97 L492.75,174.04 L493.49,173.08 L494.23,172.11 L494.96,171.10 L495.70,170.08 L496.44,169.03 L497.18,167.95 L497.91,166.85 L498.65,165.72 L499.39,164.56 L500.12,163.38 L500.86,162.16 L501.60,160.92 L502.34,159.65 L503.07,158.35 L503.81,157.02 L504.55,155.65 L505.29,154.26 L506.02,152.83 L506.76,151.37 L507.50,149.88 L508.24,148.35 L508.98,146.79 L509.71,145.19 L510.45,143.56 L511.19,141.90 L511.93,140.20 L512.66,138.46 L513.40,136.69 L514.14,134.89 L514.88,133.04 L515.61,131.16 L516.35,129.25 L517.09,127.30 L517.83,125.32 L518.56,123.30 L519.30,121.25 L520.04,119.17 L520.77,117.05 L521.51,114.91 L522.25,112.73 L522.99,110.53 L523.73,108.30 L524.46,106.04 L525.20,103.77 L525.94,101.47 L526.67,99.16 L527.41,96.83 L528.15,94.49 L528.89,92.14 L529.62,89.79 L530.36,87.43 L531.10,85.08 L531.84,82.74 L532.58,80.41 L533.31,78.09 L534.05,75.80 L534.79,73.53 L535.52,71.30 L536.26,69.10 L537.00,66.95 L537.74,64.85 L538.48,62.81 L539.21,60.83 L539.95,58.92 L540.69,57.09 L541.42,55.34 L542.16,53.68 L542.90,52.11 L543.64,50.64 L544.38,49.28 L545.11,48.03 L545.85,46.90 L546.59,45.88 L547.33,45.00 L548.06,44.24 L548.80,43.62 L549.54,43.13 L550.27,42.78 L551.01,42.57 L551.75,42.50 L552.49,42.57 L553.23,42.78 L553.96,43.13 L554.70,43.62 L555.44,44.24 L556.17,45.00 L556.91,45.88 L557.65,46.90 L558.39,48.03 L559.12,49.28 L559.86,50.64 L560.60,52.11 L561.34,53.68 L562.08,55.34 L562.81,57.09 L563.55,58.92 L564.29,60.83 L565.02,62.81 L565.76,64.85 L566.50,66.95 L567.24,69.10 L567.98,71.30 L568.71,73.53 L569.45,75.80 L570.19,78.09 L570.92,80.41 L571.66,82.74 L572.40,85.08 L573.14,87.43 L573.88,89.79 L574.61,92.14 L575.35,94.49 L576.09,96.83 L576.83,99.16 L577.56,101.47 L578.30,103.77 L579.04,106.04 L579.77,108.30 L580.51,110.53 L581.25,112.73 L581.99,114.91 L582.73,117.05 L583.46,119.17 L584.20,121.25 L584.94,123.30 L585.67,125.32 L586.41,127.30 L587.15,129.25 L587.89,131.16 L588.62,133.04 L589.36,134.89 L590.10,136.69 L590.84,138.46 L591.58,140.20 L592.31,141.90 L593.05,143.56 L593.79,145.19 L594.52,146.79 L595.26,148.35 L596.00,149.88 L596.74,151.37 L597.48,152.83 L598.21,154.26 L598.95,155.65 L599.69,157.02 L600.42,158.35 L601.16,159.65 L601.90,160.92 L602.64,162.16 L603.38,163.38 L604.11,164.56 L604.85,165.72 L605.59,166.85 L606.33,167.95 L607.06,169.03 L607.80,170.08 L608.54,171.10 L609.27,172.11 L610.01,173.08 L610.75,174.04 L611.49,174.97 L612.23,175.88 L612.96,176.77 L613.70,177.64 L614.44,178.48 L615.17,179.31 L615.91,180.11 L616.65,180.90 L617.39,181.67 L618.12,182.42 L618.86,183.15 L619.60,183.86 L620.34,184.56 L621.08,185.24 L621.81,185.90 L622.55,186.55 L623.29,187.18 L624.02,187.79 L624.76,188.40 L625.50,188.98 L626.24,189.56 L626.98,190.11 L627.71,190.66 L628.45,191.19 L629.19,191.71 L629.92,192.22 L630.66,192.71 L631.40,193.20 L632.14,193.67 L632.88,194.12 L633.61,194.57 L634.35,195.01 L635.09,195.44 L635.83,195.85 L636.56,196.26 L637.30,196.65 L638.04,197.04 L638.77,197.41 L639.51,197.78 L640.25,198.14 L640.99,198.48 L641.73,198.82 L642.46,199.15 L643.20,199.48 L643.94,199.79 L644.67,200.09 L645.41,200.39 L646.15,200.68 L646.89,200.96 L647.62,201.24 L648.36,201.50 L649.10,201.76 L649.84,202.01 L650.58,202.26 L651.31,202.50 L652.05,202.73 L652.79,202.95 L653.52,203.17 L654.26,203.38 L655.00,203.59 L655.74,203.79 L656.48,203.98 L657.21,204.17 L657.95,204.35 L658.69,204.52 L659.42,204.69 L660.16,204.86 L660.90,205.01 L661.64,205.17 L662.38,205.31 L663.11,205.45 L663.85,205.59 L664.59,205.72 L665.33,205.85 L666.06,205.97 L666.80,206.08 L667.54,206.19 L668.27,206.29 L669.01,206.39 L669.75,206.49 L670.49,206.58 L671.23,206.66 L671.96,206.74 L672.70,206.82 L673.44,206.89 L674.17,206.96 L674.91,207.02 L675.65,207.08 L676.39,207.13 L677.12,207.17 L677.86,207.22 L678.60,207.26 L679.34,207.29 L680.08,207.32 L680.81,207.34 L681.55,207.36 L682.29,207.38 L683.03,207.39 L683.76,207.40 L684.50,207.40" fill="none" stroke="#5eaaaa" stroke-width="0.85" stroke-dasharray="1.1 1.3"/>
<path d="M419.00,207.40 L419.74,207.40 L420.48,207.39 L421.21,207.37 L421.95,207.35 L422.69,207.33 L423.43,207.30 L424.16,207.26 L424.90,207.22 L425.64,207.17 L426.38,207.11 L427.11,207.05 L427.85,206.99 L428.59,206.91 L429.32,206.84 L430.06,206.75 L430.80,206.66 L431.54,206.57 L432.27,206.47 L433.01,206.36 L433.75,206.24 L434.49,206.12 L435.23,206.00 L435.96,205.86 L436.70,205.72 L437.44,205.58 L438.18,205.43 L438.91,205.27 L439.65,205.10 L440.39,204.93 L441.12,204.75 L441.86,204.57 L442.60,204.38 L443.34,204.18 L444.07,203.97 L444.81,203.76 L445.55,203.54 L446.29,203.31 L447.02,203.07 L447.76,202.83 L448.50,202.58 L449.24,202.32 L449.98,202.06 L450.71,201.78 L451.45,201.50 L452.19,201.21 L452.93,200.91 L453.66,200.61 L454.40,200.29 L455.14,199.97 L455.88,199.63 L456.61,199.29 L457.35,198.94 L458.09,198.58 L458.82,198.21 L459.56,197.83 L460.30,197.44 L461.04,197.05 L461.77,196.64 L462.51,196.22 L463.25,195.79 L463.99,195.35 L464.73,194.90 L465.46,194.43 L466.20,193.96 L466.94,193.47 L467.68,192.98 L468.41,192.47 L469.15,191.95 L469.89,191.41 L470.62,190.87 L471.36,190.31 L472.10,189.74 L472.84,189.15 L473.57,188.55 L474.31,187.94 L475.05,187.31 L475.79,186.67 L476.52,186.01 L477.26,185.34 L478.00,184.65 L478.74,183.95 L479.48,183.23 L480.21,182.50 L480.95,181.74 L481.69,180.97 L482.43,180.19 L483.16,179.38 L483.90,178.56 L484.64,177.72 L485.38,176.86 L486.11,175.98 L486.85,175.09 L487.59,174.17 L488.32,173.23 L489.06,172.27 L489.80,171.29 L490.54,170.29 L491.27,169.27 L492.01,168.23 L492.75,167.16 L493.49,166.07 L494.23,164.96 L494.96,163.82 L495.70,162.66 L496.44,161.48 L497.18,160.27 L497.91,159.03 L498.65,157.77 L499.39,156.48 L500.12,155.17 L500.86,153.83 L501.60,152.47 L502.34,151.07 L503.07,149.65 L503.81,148.21 L504.55,146.73 L505.29,145.23 L506.02,143.70 L506.76,142.14 L507.50,140.55 L508.24,138.93 L508.98,137.29 L509.71,135.61 L510.45,133.91 L511.19,132.18 L511.93,130.43 L512.66,128.64 L513.40,126.83 L514.14,124.99 L514.88,123.13 L515.61,121.24 L516.35,119.32 L517.09,117.38 L517.83,115.42 L518.56,113.44 L519.30,111.43 L520.04,109.40 L520.77,107.36 L521.51,105.30 L522.25,103.22 L522.99,101.13 L523.73,99.03 L524.46,96.92 L525.20,94.80 L525.94,92.68 L526.67,90.56 L527.41,88.43 L528.15,86.31 L528.89,84.19 L529.62,82.09 L530.36,79.99 L531.10,77.92 L531.84,75.86 L532.58,73.83 L533.31,71.82 L534.05,69.85 L534.79,67.91 L535.52,66.01 L536.26,64.15 L537.00,62.34 L537.74,60.59 L538.48,58.89 L539.21,57.26 L539.95,55.69 L540.69,54.18 L541.42,52.76 L542.16,51.41 L542.90,50.14 L543.64,48.96 L544.38,47.87 L545.11,46.87 L545.85,45.97 L546.59,45.17 L547.33,44.47 L548.06,43.87 L548.80,43.38 L549.54,43.00 L550.27,42.72 L551.01,42.56 L551.75,42.50 L552.49,42.56 L553.23,42.72 L553.96,43.00 L554.70,43.38 L555.44,43.87 L556.17,44.47 L556.91,45.17 L557.65,45.97 L558.39,46.87 L559.12,47.87 L559.86,48.96 L560.60,50.14 L561.34,51.41 L562.08,52.76 L562.81,54.18 L563.55,55.69 L564.29,57.26 L565.02,58.89 L565.76,60.59 L566.50,62.34 L567.24,64.15 L567.98,66.01 L568.71,67.91 L569.45,69.85 L570.19,71.82 L570.92,73.83 L571.66,75.86 L572.40,77.92 L573.14,79.99 L573.88,82.09 L574.61,84.19 L575.35,86.31 L576.09,88.43 L576.83,90.56 L577.56,92.68 L578.30,94.80 L579.04,96.92 L579.77,99.03 L580.51,101.13 L581.25,103.22 L581.99,105.30 L582.73,107.36 L583.46,109.40 L584.20,111.43 L584.94,113.44 L585.67,115.42 L586.41,117.38 L587.15,119.32 L587.89,121.24 L588.62,123.13 L589.36,124.99 L590.10,126.83 L590.84,128.64 L591.58,130.43 L592.31,132.18 L593.05,133.91 L593.79,135.61 L594.52,137.29 L595.26,138.93 L596.00,140.55 L596.74,142.14 L597.48,143.70 L598.21,145.23 L598.95,146.73 L599.69,148.21 L600.42,149.65 L601.16,151.07 L601.90,152.47 L602.64,153.83 L603.38,155.17 L604.11,156.48 L604.85,157.77 L605.59,159.03 L606.33,160.27 L607.06,161.48 L607.80,162.66 L608.54,163.82 L609.27,164.96 L610.01,166.07 L610.75,167.16 L611.49,168.23 L612.23,169.27 L612.96,170.29 L613.70,171.29 L614.44,172.27 L615.17,173.23 L615.91,174.17 L616.65,175.09 L617.39,175.98 L618.12,176.86 L618.86,177.72 L619.60,178.56 L620.34,179.38 L621.08,180.19 L621.81,180.97 L622.55,181.74 L623.29,182.50 L624.02,183.23 L624.76,183.95 L625.50,184.65 L626.24,185.34 L626.98,186.01 L627.71,186.67 L628.45,187.31 L629.19,187.94 L629.92,188.55 L630.66,189.15 L631.40,189.74 L632.14,190.31 L632.88,190.87 L633.61,191.41 L634.35,191.95 L635.09,192.47 L635.83,192.98 L636.56,193.47 L637.30,193.96 L638.04,194.43 L638.77,194.90 L639.51,195.35 L640.25,195.79 L640.99,196.22 L641.73,196.64 L642.46,197.05 L643.20,197.44 L643.94,197.83 L644.67,198.21 L645.41,198.58 L646.15,198.94 L646.89,199.29 L647.62,199.63 L648.36,199.97 L649.10,200.29 L649.84,200.61 L650.58,200.91 L651.31,201.21 L652.05,201.50 L652.79,201.78 L653.52,202.06 L654.26,202.32 L655.00,202.58 L655.74,202.83 L656.48,203.07 L657.21,203.31 L657.95,203.54 L658.69,203.76 L659.42,203.97 L660.16,204.18 L660.90,204.38 L661.64,204.57 L662.38,204.75 L663.11,204.93 L663.85,205.10 L664.59,205.27 L665.33,205.43 L666.06,205.58 L666.80,205.72 L667.54,205.86 L668.27,206.00 L669.01,206.12 L669.75,206.24 L670.49,206.36 L671.23,206.47 L671.96,206.57 L672.70,206.66 L673.44,206.75 L674.17,206.84 L674.91,206.91 L675.65,206.99 L676.39,207.05 L677.12,207.11 L677.86,207.17 L678.60,207.22 L679.34,207.26 L680.08,207.30 L680.81,207.33 L681.55,207.35 L682.29,207.37 L683.03,207.39 L683.76,207.40 L684.50,207.40" fill="none" stroke="#5c9e66" stroke-width="0.85" stroke-dasharray="5 3"/>
<path d="M419.00,207.40 L419.74,207.40 L420.48,207.38 L421.21,207.36 L421.95,207.34 L422.69,207.30 L423.43,207.26 L424.16,207.21 L424.90,207.15 L425.64,207.08 L426.38,207.01 L427.11,206.92 L427.85,206.83 L428.59,206.73 L429.32,206.63 L430.06,206.51 L430.80,206.39 L431.54,206.26 L432.27,206.12 L433.01,205.97 L433.75,205.81 L434.49,205.65 L435.23,205.48 L435.96,205.29 L436.70,205.10 L437.44,204.91 L438.18,204.70 L438.91,204.48 L439.65,204.26 L440.39,204.02 L441.12,203.78 L441.86,203.53 L442.60,203.27 L443.34,203.00 L444.07,202.72 L444.81,202.43 L445.55,202.13 L446.29,201.83 L447.02,201.51 L447.76,201.18 L448.50,200.84 L449.24,200.50 L449.98,200.14 L450.71,199.77 L451.45,199.40 L452.19,199.01 L452.93,198.61 L453.66,198.20 L454.40,197.78 L455.14,197.35 L455.88,196.91 L456.61,196.45 L457.35,195.99 L458.09,195.51 L458.82,195.03 L459.56,194.53 L460.30,194.01 L461.04,193.49 L461.77,192.95 L462.51,192.40 L463.25,191.84 L463.99,191.27 L464.73,190.68 L465.46,190.08 L466.20,189.47 L466.94,188.84 L467.68,188.20 L468.41,187.54 L469.15,186.87 L469.89,186.19 L470.62,185.49 L471.36,184.78 L472.10,184.05 L472.84,183.31 L473.57,182.55 L474.31,181.77 L475.05,180.98 L475.79,180.18 L476.52,179.36 L477.26,178.52 L478.00,177.66 L478.74,176.79 L479.48,175.90 L480.21,174.99 L480.95,174.07 L481.69,173.12 L482.43,172.16 L483.16,171.19 L483.90,170.19 L484.64,169.17 L485.38,168.14 L486.11,167.08 L486.85,166.01 L487.59,164.92 L488.32,163.81 L489.06,162.67 L489.80,161.52 L490.54,160.35 L491.27,159.16 L492.01,157.94 L492.75,156.71 L493.49,155.45 L494.23,154.18 L494.96,152.88 L495.70,151.56 L496.44,150.23 L497.18,148.86 L497.91,147.48 L498.65,146.08 L499.39,144.66 L500.12,143.21 L500.86,141.74 L501.60,140.25 L502.34,138.75 L503.07,137.22 L503.81,135.67 L504.55,134.09 L505.29,132.50 L506.02,130.89 L506.76,129.26 L507.50,127.61 L508.24,125.94 L508.98,124.25 L509.71,122.55 L510.45,120.82 L511.19,119.08 L511.93,117.33 L512.66,115.56 L513.40,113.77 L514.14,111.97 L514.88,110.16 L515.61,108.34 L516.35,106.50 L517.09,104.66 L517.83,102.81 L518.56,100.95 L519.30,99.08 L520.04,97.21 L520.77,95.34 L521.51,93.47 L522.25,91.59 L522.99,89.72 L523.73,87.85 L524.46,85.99 L525.20,84.14 L525.94,82.30 L526.67,80.47 L527.41,78.65 L528.15,76.85 L528.89,75.07 L529.62,73.31 L530.36,71.57 L531.10,69.86 L531.84,68.18 L532.58,66.53 L533.31,64.91 L534.05,63.33 L534.79,61.79 L535.52,60.29 L536.26,58.83 L537.00,57.42 L537.74,56.06 L538.48,54.75 L539.21,53.50 L539.95,52.30 L540.69,51.17 L541.42,50.09 L542.16,49.08 L542.90,48.13 L543.64,47.25 L544.38,46.44 L545.11,45.70 L545.85,45.04 L546.59,44.45 L547.33,43.94 L548.06,43.50 L548.80,43.14 L549.54,42.86 L550.27,42.66 L551.01,42.54 L551.75,42.50 L552.49,42.54 L553.23,42.66 L553.96,42.86 L554.70,43.14 L555.44,43.50 L556.17,43.94 L556.91,44.45 L557.65,45.04 L558.39,45.70 L559.12,46.44 L559.86,47.25 L560.60,48.13 L561.34,49.08 L562.08,50.09 L562.81,51.17 L563.55,52.30 L564.29,53.50 L565.02,54.75 L565.76,56.06 L566.50,57.42 L567.24,58.83 L567.98,60.29 L568.71,61.79 L569.45,63.33 L570.19,64.91 L570.92,66.53 L571.66,68.18 L572.40,69.86 L573.14,71.57 L573.88,73.31 L574.61,75.07 L575.35,76.85 L576.09,78.65 L576.83,80.47 L577.56,82.30 L578.30,84.14 L579.04,85.99 L579.77,87.85 L580.51,89.72 L581.25,91.59 L581.99,93.47 L582.73,95.34 L583.46,97.21 L584.20,99.08 L584.94,100.95 L585.67,102.81 L586.41,104.66 L587.15,106.50 L587.89,108.34 L588.62,110.16 L589.36,111.97 L590.10,113.77 L590.84,115.56 L591.58,117.33 L592.31,119.08 L593.05,120.82 L593.79,122.55 L594.52,124.25 L595.26,125.94 L596.00,127.61 L596.74,129.26 L597.48,130.89 L598.21,132.50 L598.95,134.09 L599.69,135.67 L600.42,137.22 L601.16,138.75 L601.90,140.25 L602.64,141.74 L603.38,143.21 L604.11,144.66 L604.85,146.08 L605.59,147.48 L606.33,148.86 L607.06,150.23 L607.80,151.56 L608.54,152.88 L609.27,154.18 L610.01,155.45 L610.75,156.71 L611.49,157.94 L612.23,159.16 L612.96,160.35 L613.70,161.52 L614.44,162.67 L615.17,163.81 L615.91,164.92 L616.65,166.01 L617.39,167.08 L618.12,168.14 L618.86,169.17 L619.60,170.19 L620.34,171.19 L621.08,172.16 L621.81,173.12 L622.55,174.07 L623.29,174.99 L624.02,175.90 L624.76,176.79 L625.50,177.66 L626.24,178.52 L626.98,179.36 L627.71,180.18 L628.45,180.98 L629.19,181.77 L629.92,182.55 L630.66,183.31 L631.40,184.05 L632.14,184.78 L632.88,185.49 L633.61,186.19 L634.35,186.87 L635.09,187.54 L635.83,188.20 L636.56,188.84 L637.30,189.47 L638.04,190.08 L638.77,190.68 L639.51,191.27 L640.25,191.84 L640.99,192.40 L641.73,192.95 L642.46,193.49 L643.20,194.01 L643.94,194.53 L644.67,195.03 L645.41,195.51 L646.15,195.99 L646.89,196.45 L647.62,196.91 L648.36,197.35 L649.10,197.78 L649.84,198.20 L650.58,198.61 L651.31,199.01 L652.05,199.40 L652.79,199.77 L653.52,200.14 L654.26,200.50 L655.00,200.84 L655.74,201.18 L656.48,201.51 L657.21,201.83 L657.95,202.13 L658.69,202.43 L659.42,202.72 L660.16,203.00 L660.90,203.27 L661.64,203.53 L662.38,203.78 L663.11,204.02 L663.85,204.26 L664.59,204.48 L665.33,204.70 L666.06,204.91 L666.80,205.10 L667.54,205.29 L668.27,205.48 L669.01,205.65 L669.75,205.81 L670.49,205.97 L671.23,206.12 L671.96,206.26 L672.70,206.39 L673.44,206.51 L674.17,206.63 L674.91,206.73 L675.65,206.83 L676.39,206.92 L677.12,207.01 L677.86,207.08 L678.60,207.15 L679.34,207.21 L680.08,207.26 L680.81,207.30 L681.55,207.34 L682.29,207.36 L683.03,207.38 L683.76,207.40 L684.50,207.40" fill="none" stroke="#a070a8" stroke-width="0.85" stroke-dasharray="5 2.5 1 2.5"/>
<rect x="419.0" y="25.5" width="265.5" height="198.0" fill="none" stroke="#404040" stroke-width="1.1"/>
<text x="55.30" y="241.00" font-size="17.3" textLength="9.20" lengthAdjust="spacingAndGlyphs">0</text>
<text x="120.76" y="241.00" font-size="17.3" textLength="26.31" lengthAdjust="spacingAndGlyphs">100</text>
<text x="194.63" y="241.00" font-size="17.3" textLength="26.34" lengthAdjust="spacingAndGlyphs">200</text>
<text x="268.25" y="241.00" font-size="17.3" textLength="26.73" lengthAdjust="spacingAndGlyphs">300</text>
<text x="414.30" y="241.00" font-size="17.3" textLength="9.20" lengthAdjust="spacingAndGlyphs">0</text>
<text x="479.76" y="241.00" font-size="17.3" textLength="26.31" lengthAdjust="spacingAndGlyphs">100</text>
<text x="553.63" y="241.00" font-size="17.3" textLength="26.34" lengthAdjust="spacingAndGlyphs">200</text>
<text x="627.25" y="241.00" font-size="17.3" textLength="26.73" lengthAdjust="spacingAndGlyphs">300</text>
<text class="ns" x="177.95" y="265.40" font-size="17.5" font-style="italic">θ</text>
<path d="M197.20,253.3 H194.60 V272" fill="none" stroke="#1c1c1c" stroke-width="1.0"/>
<path d="M202.90,253.3 H205.40 V272" fill="none" stroke="#1c1c1c" stroke-width="1.0"/>
<circle cx="199.45" cy="256.1" r="1.5" fill="none" stroke="#1c1c1c" stroke-width="0.85"/>
<text class="ns" x="536.95" y="265.40" font-size="17.5" font-style="italic">θ</text>
<path d="M556.20,253.3 H553.60 V272" fill="none" stroke="#1c1c1c" stroke-width="1.0"/>
<path d="M561.90,253.3 H564.40 V272" fill="none" stroke="#1c1c1c" stroke-width="1.0"/>
<circle cx="558.45" cy="256.1" r="1.5" fill="none" stroke="#1c1c1c" stroke-width="0.85"/>
<text x="36.51" y="214.20" font-size="17.3" textLength="17.87" lengthAdjust="spacingAndGlyphs">22</text>
<text x="36.55" y="144.20" font-size="17.3" textLength="17.12" lengthAdjust="spacingAndGlyphs">24</text>
<text x="36.54" y="74.20" font-size="17.3">26</text>
<path d="M19.70,145.2 L9.00,150.8 L19.70,156.4 Z" fill="none" stroke="#1c1c1c" stroke-width="0.9" stroke-linejoin="miter"/>
<path d="M19.50,145.0 V156.7" stroke="#1c1c1c" stroke-width="1.5" fill="none"/>
<path d="M9.10,150.7 L19.60,145.3" stroke="#1c1c1c" stroke-width="1.3" fill="none"/>
<text class="ns" transform="translate(20.40,143.30) rotate(-90)" x="-1.09" y="0" font-size="17.5" font-style="italic" textLength="10.99" lengthAdjust="spacingAndGlyphs">u</text>
<text class="ns" transform="translate(20.70,126.20) rotate(-90)" x="-1.24" y="0" font-size="17.5" textLength="36.07" lengthAdjust="spacingAndGlyphs">[mV]</text>
<path d="M407.80,145.2 L397.10,150.8 L407.80,156.4 Z" fill="none" stroke="#1c1c1c" stroke-width="0.9" stroke-linejoin="miter"/>
<path d="M407.60,145.0 V156.7" stroke="#1c1c1c" stroke-width="1.5" fill="none"/>
<path d="M397.20,150.7 L407.70,145.3" stroke="#1c1c1c" stroke-width="1.3" fill="none"/>
<text class="ns" transform="translate(408.50,143.30) rotate(-90)" x="-1.09" y="0" font-size="17.5" font-style="italic" textLength="10.99" lengthAdjust="spacingAndGlyphs">u</text>
<text class="ns" transform="translate(408.80,126.20) rotate(-90)" x="-1.24" y="0" font-size="17.5" textLength="35.28" lengthAdjust="spacingAndGlyphs">[a.u.]</text>
<rect x="212.5" y="31.2" width="105.0" height="82.8" fill="#fff" stroke="#404040" stroke-width="1.1"/>
<line x1="217.1" y1="46.4" x2="230.7" y2="46.4" stroke="#c84257" stroke-width="1.0"/>
<line x1="217.1" y1="67.0" x2="230.7" y2="67.0" stroke="#789cd0" stroke-width="0.85" stroke-dasharray="1.1 1.3"/>
<line x1="217.1" y1="84.8" x2="230.7" y2="84.8" stroke="#5c9e66" stroke-width="0.85" stroke-dasharray="5 3"/>
<line x1="217.1" y1="102.6" x2="230.7" y2="102.6" stroke="#9870aa" stroke-width="0.85" stroke-dasharray="5 2.5 1 2.5"/>
<text x="234.12" y="52.30" font-size="13.7" textLength="16.39" lengthAdjust="spacingAndGlyphs">sin</text>
<text x="250.94" y="48.00" font-size="8.8" textLength="5.24" lengthAdjust="spacingAndGlyphs">2</text>
<text x="261.42" y="55.20" font-size="24.8" textLength="4.41" lengthAdjust="spacingAndGlyphs">(</text>
<text x="269.62" y="47.40" font-size="8.6" font-style="italic" textLength="5.86" lengthAdjust="spacingAndGlyphs">θ</text>
<line x1="269.30" y1="49.50" x2="276.00" y2="49.50" stroke="#1c1c1c" stroke-width="0.75"/>
<text x="269.65" y="57.80" font-size="8.9" textLength="6.24" lengthAdjust="spacingAndGlyphs">2</text>
<text x="278.25" y="55.20" font-size="24.8" textLength="4.67" lengthAdjust="spacingAndGlyphs">)</text>
<text x="234.67" y="70.40" font-size="13.2" font-style="italic" textLength="6.83" lengthAdjust="spacingAndGlyphs">J</text>
<line x1="247.20" y1="65.40" x2="256.20" y2="65.40" stroke="#1c1c1c" stroke-width="0.8"/><line x1="247.20" y1="68.30" x2="256.20" y2="68.30" stroke="#1c1c1c" stroke-width="0.8"/>
<text x="261.04" y="70.40" font-size="12.6" textLength="29.76" lengthAdjust="spacingAndGlyphs">1.316</text>
<text x="293.18" y="70.40" font-size="12.6" textLength="15.57" lengthAdjust="spacingAndGlyphs">eV</text>
<text x="234.67" y="87.90" font-size="13.2" font-style="italic" textLength="6.83" lengthAdjust="spacingAndGlyphs">J</text>
<line x1="247.20" y1="82.90" x2="256.20" y2="82.90" stroke="#1c1c1c" stroke-width="0.8"/><line x1="247.20" y1="85.80" x2="256.20" y2="85.80" stroke="#1c1c1c" stroke-width="0.8"/>
<text x="260.28" y="87.90" font-size="12.6" textLength="30.68" lengthAdjust="spacingAndGlyphs">0.329</text>
<text x="293.18" y="87.90" font-size="12.6" textLength="15.57" lengthAdjust="spacingAndGlyphs">eV</text>
<text x="234.67" y="105.40" font-size="13.2" font-style="italic" textLength="6.83" lengthAdjust="spacingAndGlyphs">J</text>
<line x1="247.20" y1="100.40" x2="256.20" y2="100.40" stroke="#1c1c1c" stroke-width="0.8"/><line x1="247.20" y1="103.30" x2="256.20" y2="103.30" stroke="#1c1c1c" stroke-width="0.8"/>
<text x="260.28" y="105.40" font-size="12.6" textLength="30.65" lengthAdjust="spacingAndGlyphs">0.013</text>
<text x="293.18" y="105.40" font-size="12.6" textLength="15.57" lengthAdjust="spacingAndGlyphs">eV</text>
<rect x="595.5" y="31.5" width="81.0" height="85.5" fill="#fff" stroke="#404040" stroke-width="1.1"/>
<line x1="600.1" y1="46.4" x2="613.7" y2="46.4" stroke="#c84257" stroke-width="1.0"/>
<line x1="600.1" y1="67.4" x2="613.7" y2="67.4" stroke="#5eaaaa" stroke-width="0.85" stroke-dasharray="1.1 1.3"/>
<line x1="600.1" y1="86.1" x2="613.7" y2="86.1" stroke="#5c9e66" stroke-width="0.85" stroke-dasharray="5 3"/>
<line x1="600.1" y1="104.6" x2="613.7" y2="104.6" stroke="#a070a8" stroke-width="0.85" stroke-dasharray="5 2.5 1 2.5"/>
<text x="617.32" y="52.00" font-size="13.7" textLength="16.39" lengthAdjust="spacingAndGlyphs">sin</text>
<text x="634.14" y="47.70" font-size="8.8" textLength="5.24" lengthAdjust="spacingAndGlyphs">2</text>
<text x="644.62" y="54.90" font-size="24.8" textLength="4.41" lengthAdjust="spacingAndGlyphs">(</text>
<text x="652.82" y="47.10" font-size="8.6" font-style="italic" textLength="5.86" lengthAdjust="spacingAndGlyphs">θ</text>
<line x1="652.50" y1="49.20" x2="659.20" y2="49.20" stroke="#1c1c1c" stroke-width="0.75"/>
<text x="652.85" y="57.50" font-size="8.9" textLength="6.24" lengthAdjust="spacingAndGlyphs">2</text>
<text x="661.45" y="54.90" font-size="24.8" textLength="4.67" lengthAdjust="spacingAndGlyphs">)</text>
<text x="621.52" y="71.40" font-size="13.2" font-style="italic" textLength="6.80" lengthAdjust="spacingAndGlyphs">β</text>
<path d="M632.50,63.00 L629.70,67.50" stroke="#1c1c1c" stroke-width="1.05" stroke-linecap="round" fill="none"/>
<line x1="638.00" y1="66.40" x2="646.60" y2="66.40" stroke="#1c1c1c" stroke-width="0.8"/><line x1="638.00" y1="69.30" x2="646.60" y2="69.30" stroke="#1c1c1c" stroke-width="0.8"/>
<text x="651.07" y="71.40" font-size="12.6" textLength="17.46" lengthAdjust="spacingAndGlyphs">0.8</text>
<text x="621.52" y="89.80" font-size="13.2" font-style="italic" textLength="6.80" lengthAdjust="spacingAndGlyphs">β</text>
<path d="M632.50,81.40 L629.70,85.90" stroke="#1c1c1c" stroke-width="1.05" stroke-linecap="round" fill="none"/>
<line x1="638.00" y1="84.80" x2="646.60" y2="84.80" stroke="#1c1c1c" stroke-width="0.8"/><line x1="638.00" y1="87.70" x2="646.60" y2="87.70" stroke="#1c1c1c" stroke-width="0.8"/>
<text x="651.07" y="89.80" font-size="12.6" textLength="17.34" lengthAdjust="spacingAndGlyphs">0.6</text>
<text x="621.52" y="108.30" font-size="13.2" font-style="italic" textLength="6.80" lengthAdjust="spacingAndGlyphs">β</text>
<path d="M632.50,99.90 L629.70,104.40" stroke="#1c1c1c" stroke-width="1.05" stroke-linecap="round" fill="none"/>
<line x1="638.00" y1="103.30" x2="646.60" y2="103.30" stroke="#1c1c1c" stroke-width="0.8"/><line x1="638.00" y1="106.20" x2="646.60" y2="106.20" stroke="#1c1c1c" stroke-width="0.8"/>
<text x="651.10" y="108.30" font-size="12.6" textLength="16.50" lengthAdjust="spacingAndGlyphs">0.1</text>
<text class="ns" x="-1.90" y="12.95" font-size="19.6" font-weight="bold" textLength="6.09" lengthAdjust="spacingAndGlyphs">(</text>
<text class="ns" x="5.72" y="12.20" font-size="15.5" font-weight="bold" textLength="8.95" lengthAdjust="spacingAndGlyphs">a</text>
<text class="ns" x="17.01" y="12.95" font-size="19.6" font-weight="bold" textLength="6.09" lengthAdjust="spacingAndGlyphs">)</text>
<text class="ns" x="357.10" y="12.95" font-size="19.6" font-weight="bold" textLength="6.09" lengthAdjust="spacingAndGlyphs">(</text>
<text class="ns" x="364.86" y="12.20" font-size="15.5" font-weight="bold" textLength="10.62" lengthAdjust="spacingAndGlyphs">b</text>
<text class="ns" x="376.01" y="12.95" font-size="19.6" font-weight="bold" textLength="6.09" lengthAdjust="spacingAndGlyphs">)</text>
</svg></body></html>
